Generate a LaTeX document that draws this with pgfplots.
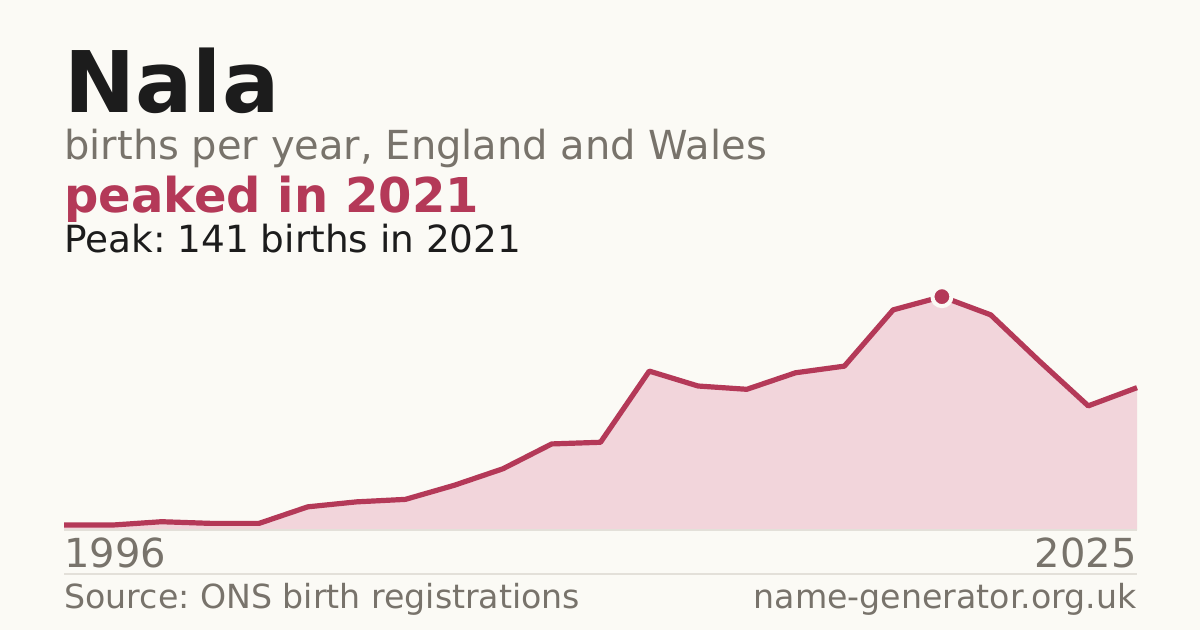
\documentclass[border=0pt]{standalone}
\usepackage{fontspec}
\setmainfont{DejaVu Sans}
\usepackage{pgfplots}
\pgfplotsset{compat=1.18}
\definecolor{bg}{HTML}{FBFAF5}
\definecolor{crim}{HTML}{B43958}
\definecolor{pinkfill}{HTML}{F2D5DB}
\definecolor{greytxt}{HTML}{78736B}
\definecolor{darktxt}{HTML}{1C1C1C}
\definecolor{rule}{HTML}{E3E0D9}
\frenchspacing
\begin{document}
\begin{tikzpicture}[x=1pt,y=1pt]
\useasboundingbox (0,0) rectangle (600,315);
\fill[bg] (0,0) rectangle (600,315);
\begin{axis}[
  at={(32pt,50pt)}, anchor=origin,
  scale only axis, width=536.5pt, height=132.4pt,
  xmin=0, xmax=22, ymin=0, ymax=160,
  axis lines=none, ticks=none, clip=false,
]
\addplot[fill=pinkfill, draw=none] coordinates {
(0,3) (1,3) (2,5) (3,4) (4,4) (5,14) (6,17) (7,18.5) (8,27) (9,37) (10,52) (11,53)
(12,96) (13,87) (14,85) (15,95) (16,99) (17,133) (18,141) (19,130) (20,102) (21,75) (22,86)
} \closedcycle;
\draw[rule, line width=0.6pt] (axis cs:0,0) -- (axis cs:22,0);
\addplot[crim, line width=2.6pt, line join=round] coordinates {
(0,3) (1,3) (2,5) (3,4) (4,4) (5,14) (6,17) (7,18.5) (8,27) (9,37) (10,52) (11,53)
(12,96) (13,87) (14,85) (15,95) (16,99) (17,133) (18,141) (19,130) (20,102) (21,75) (22,86)
};
\addplot[only marks, mark=*, mark size=4.75pt, mark options={fill=crim, draw=bg, line width=2pt}] coordinates {(18,141)};
\end{axis}
\node[anchor=base west, inner sep=0pt, text=darktxt, font=\fontsize{42.5}{50}\selectfont\bfseries] at (32,258.5) {Nala};
\node[anchor=base west, inner sep=0pt, text=greytxt, font=\fontsize{20}{24}\selectfont] at (32,235) {births per year, England and Wales};
\node[anchor=base west, inner sep=0pt, text=crim, font=\fontsize{24}{28}\selectfont\bfseries] at (32,208.5) {peaked in 2021};
\node[anchor=base west, inner sep=0pt, text=darktxt, font=\fontsize{18.7}{22}\selectfont] at (32,188.5) {Peak: 141 births in 2021};
\node[anchor=base west, inner sep=0pt, text=greytxt, font=\fontsize{20}{24}\selectfont] at (32,31) {1996};
\node[anchor=base east, inner sep=0pt, text=greytxt, font=\fontsize{20}{24}\selectfont] at (568.5,31) {2025};
\draw[rule, line width=0.6pt] (32,28) -- (568.5,28);
\node[anchor=base west, inner sep=0pt, text=greytxt, font=\fontsize{16.6}{20}\selectfont] at (32,10.5) {Source: ONS birth registrations};
\node[anchor=base east, inner sep=0pt, text=greytxt, font=\fontsize{16.6}{20}\selectfont] at (568.5,10.5) {name-generator.org.uk};
\end{tikzpicture}
\end{document}
